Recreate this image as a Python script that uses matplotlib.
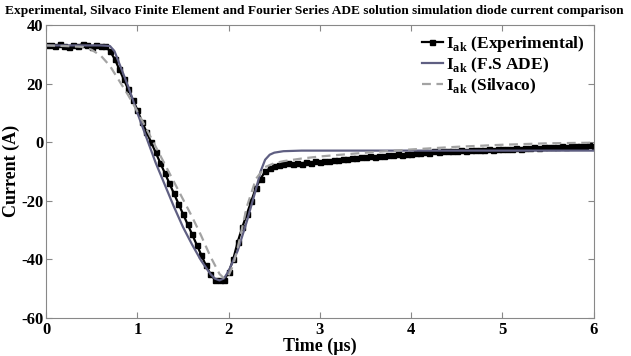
import numpy as np
import matplotlib
matplotlib.use("Agg")
import matplotlib.pyplot as plt

plt.rcParams['font.family'] = 'Liberation Serif'
plt.rcParams['font.weight'] = 'bold'
plt.rcParams['mathtext.fontset'] = 'custom'
plt.rcParams['mathtext.rm'] = 'Liberation Serif:bold'
plt.rcParams['mathtext.bf'] = 'Liberation Serif:bold'
plt.rcParams['axes.unicode_minus'] = False

# Measured diode current, sampled every 0.05 us
t_exp = np.round(np.arange(0, 6.001, 0.05), 2)
i_exp = [
    33.0, 33.2, 32.8, 33.4, 32.9, 32.6, 33.0, 32.8, 33.5, 33.0,
    32.6, 33.1, 32.8, 32.8, 31.0, 28.5, 25.0, 21.5, 18.0, 14.5,
    11.0, 7.0, 3.5, 0.0, -3.5, -7.0, -10.5, -14.0, -17.5, -21.0,
    -24.5, -28.0, -31.5, -35.0, -38.5, -42.0, -45.0, -47.0, -47.2, -47.0,
    -44.5, -40.0, -34.0, -29.0, -24.5, -20.0, -15.5, -12.5, -10.0, -9.0,
    -8.2, -7.8, -7.5, -7.2, -7.4, -7.0, -7.3, -6.9, -7.2, -6.6,
    -6.8, -6.4, -6.5, -6.0, -6.2, -5.6, -5.8, -5.3, -5.5, -5.0,
    -5.2, -4.8, -5.0, -4.6, -4.8, -4.3, -4.5, -4.1, -4.3, -3.9,
    -4.0, -3.6, -3.8, -3.4, -3.6, -3.2, -3.4, -3.1, -3.2, -3.0,
    -3.1, -2.8, -3.0, -2.7, -2.8, -2.6, -2.7, -2.5, -2.6, -2.3,
    -2.5, -2.2, -2.3, -2.0, -2.2, -1.9, -2.0, -1.8, -1.9, -1.6,
    -1.8, -1.5, -1.6, -1.4, -1.5, -1.3, -1.4, -1.2, -1.3, -1.1,
    -1.2,
]

# Fourier series ADE model
t_fs = [0, 0.3, 0.6, 0.7, 0.75, 0.8, 0.9, 1.0, 1.1, 1.2, 1.3, 1.4, 1.5,
        1.6, 1.7, 1.8, 1.85, 1.9, 1.95, 2.0, 2.1, 2.2, 2.3, 2.35, 2.4,
        2.45, 2.5, 2.6, 2.8, 3.0, 4.0, 5.0, 6.0]
i_fs = [33, 33, 33, 32.8, 31.0, 27.0, 19.0, 10.0, 1.5, -7.0, -14.5, -22.0,
        -29.0, -35.0, -40.5, -45.0, -46.6, -47.2, -46.5, -44.0, -37.0,
        -27.0, -16.0, -10.0, -6.0, -4.3, -3.6, -3.1, -2.9, -2.9, -2.9,
        -2.9, -2.9]

# Silvaco finite element simulation
t_sv = [0, 0.2, 0.4, 0.5, 0.6, 0.7, 0.8, 0.9, 1.0, 1.1, 1.2, 1.3, 1.4, 1.5,
        1.6, 1.7, 1.8, 1.9, 1.95, 2.0, 2.05, 2.1, 2.2, 2.3, 2.4, 2.5, 2.6,
        2.8, 3.0, 3.5, 4.0, 4.5, 5.0, 5.5, 6.0]
i_sv = [33, 32.8, 32.5, 31.5, 29.5, 26.0, 21.0, 16.0, 10.5, 4.5, -1.5, -7.5,
        -13.5, -19.5, -25.5, -32.0, -39.0, -45.0, -46.5, -45.5, -42.0, -36.0,
        -22.0, -12.5, -8.5, -7.2, -6.5, -5.6, -4.9, -3.6, -2.5, -1.6, -0.9,
        -0.4, -0.2]

fig = plt.figure(figsize=(6.31, 3.56), dpi=100)
ax = fig.add_axes([0.073, 0.107, 0.868, 0.823])

ax.plot(t_exp, i_exp, color='black', lw=1.6, marker='s', ms=3.6,
        label=r'I$_{\rm ak}$ (Experimental)')
ax.plot(t_fs, i_fs, color='#5f5f82', lw=1.6, label=r'I$_{\rm ak}$ (F.S ADE)')
ax.plot(t_sv, i_sv, color='#a3a3a3', lw=1.6, ls='--', dashes=(4, 2.5),
        label=r'I$_{\rm ak}$ (Silvaco)')

ax.set_xlim(0, 6)
ax.set_ylim(-60, 40)
ax.set_xticks(range(0, 7))
ax.set_yticks(range(-60, 41, 20))
ax.tick_params(direction='in', top=True, right=True, length=4,
               color='#888888', labelsize=12, pad=3)
ax.tick_params(axis='y', pad=2)
for s in ax.spines.values():
    s.set_color('#888888')
    s.set_linewidth(0.8)

ax.set_xlabel('Time (\u00b5s)', fontsize=13, fontweight='bold', labelpad=0)
ax.set_ylabel('Current (A)', fontsize=13, fontweight='bold')
ax.yaxis.set_label_coords(-0.047, 0.5)

leg = ax.legend(loc='upper right', frameon=False, fontsize=12.5,
                handlelength=1.2, handletextpad=0.2, labelspacing=0.1,
                borderaxespad=0.1)

fig.text(0.008, 0.985, 'Experimental, Silvaco Finite Element and Fourier Series '
         'ADE solution simulation diode current comparison',
         ha='left', va='top', fontsize=9.6, fontweight='bold')

fig.savefig('out.png', dpi=100)
